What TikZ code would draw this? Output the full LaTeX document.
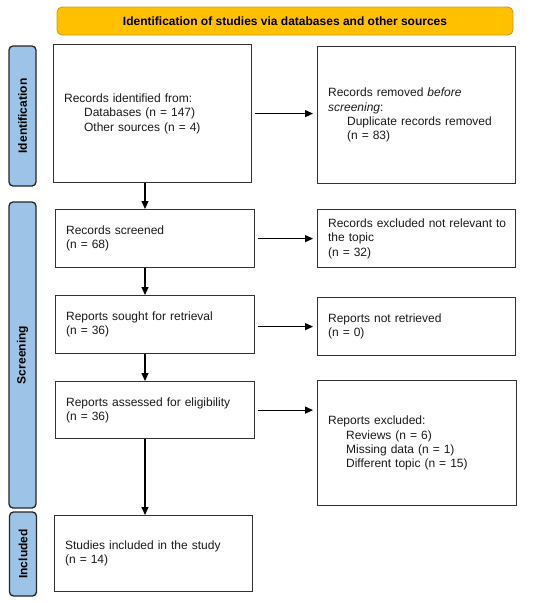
\documentclass[tikz,border=0pt]{standalone}
\usepackage{fontspec}
\setmainfont{Liberation Sans}
\usetikzlibrary{arrows.meta,calc}
\definecolor{bannerfill}{HTML}{FFC000}
\definecolor{bannerline}{HTML}{C99A1A}
\definecolor{barfill}{HTML}{9DC3E6}
\definecolor{boxline}{HTML}{333333}
\definecolor{txt}{HTML}{1A1A1A}
\begin{document}
\begin{tikzpicture}[x=1pt,y=-1pt,
  box/.style={draw=boxline, line width=1.2pt, align=left, inner xsep=10.5pt, inner ysep=0pt,
    anchor=north west, text=txt, font=\fontsize{12}{14.3}\selectfont},
  sidebar/.style={draw=black!85, fill=barfill, line width=1.3pt, rounded corners=4pt, rotate=90,
    minimum height=27pt, inner sep=0pt, font=\fontsize{12}{14}\selectfont\bfseries},
  banner/.style={draw=bannerline, fill=bannerfill, line width=0.8pt, rounded corners=5pt,
    minimum width=456pt, minimum height=28pt, inner sep=0pt, font=\fontsize{12}{14}\selectfont\bfseries},
  flow/.style={line width=1.2pt, black, -{Triangle[length=8pt,width=7pt]}}
]
\useasboundingbox (0,0) rectangle (550,603);

\node[banner] (ban) at (285,21) {Identification of studies via databases and other sources};

\node[sidebar, minimum width=140pt] (sid) at (22.5,116) {Identification};
\node[sidebar, minimum width=306pt] (sscr) at (22.5,355) {Screening};
\node[sidebar, minimum width=84pt] (sinc) at (23,554) {Included};

\node[box, text width=177pt, minimum height=138pt] (b1) at (53,44)
  {Records identified from:\\\hspace*{20pt}Databases (n = 147)\\\hspace*{20pt}Other sources (n = 4)};
\node[box, text width=177pt, minimum height=137pt] (r1) at (317,46)
  {Records removed \textit{before}\\\textit{screening}:\\\hspace*{19pt}Duplicate records removed\\\hspace*{19pt}(n = 83)};

\node[box, text width=178pt, minimum height=58pt] (b2) at (55,209)
  {Records screened\\(n = 68)};
\node[box, text width=177pt, minimum height=58pt] (r2) at (317,209)
  {\mbox{Records excluded not relevant to}\\the topic\\(n = 32)};

\node[box, text width=178pt, minimum height=58pt] (b3) at (55,295)
  {Reports sought for retrieval\\(n = 36)};
\node[box, text width=177pt, minimum height=58pt] (r3) at (317,297)
  {Reports not retrieved\\(n = 0)};

\node[box, text width=178pt, minimum height=57pt] (b4) at (55,381)
  {Reports assessed for eligibility\\(n = 36)};
\node[box, text width=178pt, minimum height=125pt] (r4) at (317,380)
  {Reports excluded:\\\hspace*{18pt}Reviews (n = 6)\\\hspace*{18pt}Missing data (n = 1)\\\hspace*{18pt}Different topic (n = 15)};

\node[box, text width=177pt, minimum height=76pt] (b5) at (54,515)
  {Studies included in the study\\(n = 14)};

\coordinate (ax) at (145,0);

\draw[flow] (b1.south -| ax) -- (b2.north -| ax);
\draw[flow] (b2.south -| ax) -- (b3.north -| ax);
\draw[flow] (b3.south -| ax) -- (b4.north -| ax);
\draw[flow] (b4.south -| ax) -- (b5.north -| ax);

\draw[flow, shorten <=3pt, shorten >=4pt] (b1.east) -- (b1.east -| r1.west);
\draw[flow, shorten <=2.5pt, shorten >=4pt] (b2.east) -- (b2.east -| r2.west);
\draw[flow, shorten <=2.5pt, shorten >=4pt] ($(b3.east)+(0,2)$) -- ($(b3.east -| r3.west)+(0,2)$);
\draw[flow, shorten <=2.5pt, shorten >=4pt] (b4.east) -- (b4.east -| r4.west);
\end{tikzpicture}
\end{document}
